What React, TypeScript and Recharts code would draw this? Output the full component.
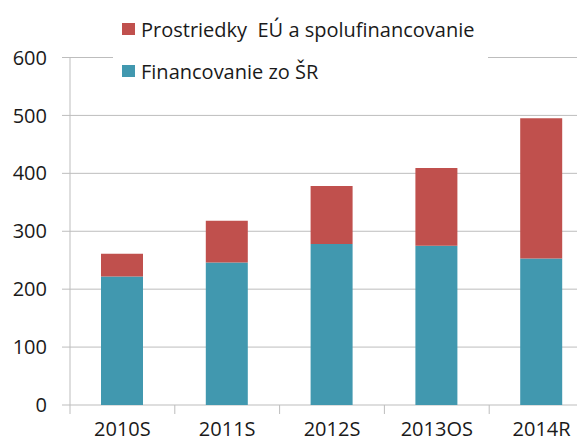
import { BarChart, Bar, XAxis, YAxis, CartesianGrid, Legend } from "recharts";

const categories: string[] = ["2010S", "2011S", "2012S", "2013OS", "2014R"];
const financovanieSR: number[] = [222, 246, 278, 275, 253];
const prostriedkyEU: number[] = [39, 72, 100, 134, 242];
const yTicks: number[] = [0, 100, 200, 300, 400, 500, 600];

const SR_NAME = "Financovanie zo ŠR";
const EU_NAME = "Prostriedky  EÚ a spolufinancovanie";

const RED = "#C0504D";
const BLUE = "#4198AF";
const GRID = "#BDBDBD";
const FONT = "'Open Sans', sans-serif";

const data = categories.map((name, i) => ({
  name,
  sr: financovanieSR[i],
  eu: prostriedkyEU[i],
}));

// x axis ticks sit between categories, like Excel
function CategoryTick(props: any) {
  const { x, y, payload } = props;
  const half = payload && payload.offset ? payload.offset : 52;
  return (
    <g>
      <line x1={x - half} x2={x - half} y1={y - 9} y2={y} stroke={GRID} />
      <text
        x={x}
        y={y + 22}
        textAnchor="middle"
        fontFamily={FONT}
        fontSize={20}
        fill="#1a1a1a"
      >
        {payload.value}
      </text>
    </g>
  );
}

function LegendBox(props: any) {
  const items = [...(props.payload || [])].reverse();
  return (
    <div
      style={{
        background: "#fff",
        width: 375,
        paddingLeft: 9,
        boxSizing: "border-box",
        fontFamily: FONT,
        fontSize: 20,
        color: "#1a1a1a",
      }}
    >
      {items.map((it: any) => (
        <div
          key={it.value}
          style={{ height: 42, display: "flex", alignItems: "center" }}
        >
          <span
            style={{
              width: 13,
              height: 12,
              background: it.color,
              marginRight: 6,
              display: "inline-block",
            }}
          />
          <span style={{ whiteSpace: "pre" }}>{it.value}</span>
        </div>
      ))}
    </div>
  );
}

export default function App() {
  return (
    <div style={{ margin: "-8px 0 0 -8px", width: 600, height: 442 }}>
      <BarChart
        width={600}
        height={442}
        data={data}
        margin={{ top: 57.5, right: 6, left: 0, bottom: 7 }}
      >
        <CartesianGrid horizontal vertical={false} stroke={GRID} />
        <XAxis
          dataKey="name"
          axisLine={false}
          tickLine={false}
          tickSize={9}
          tickMargin={0}
          height={30}
          interval={0}
          tick={<CategoryTick />}
        />
        <YAxis
          width={70}
          domain={[0, 600]}
          ticks={yTicks}
          interval={0}
          axisLine={{ stroke: GRID }}
          tickLine={{ stroke: GRID }}
          tickSize={8}
          tickMargin={15}
          tick={{ fontFamily: FONT, fontSize: 20, fill: "#1a1a1a" }}
        />
        <Legend
          layout="vertical"
          align="center"
          verticalAlign="middle"
          wrapperStyle={{ left: 113, top: 8, width: 375 }}
          content={<LegendBox />}
        />
        <Bar
          dataKey="sr"
          name={SR_NAME}
          stackId="a"
          fill={BLUE}
          barSize={42}
          isAnimationActive={false}
        />
        <Bar
          dataKey="eu"
          name={EU_NAME}
          stackId="a"
          fill={RED}
          barSize={42}
          isAnimationActive={false}
        />
      </BarChart>
    </div>
  );
}
